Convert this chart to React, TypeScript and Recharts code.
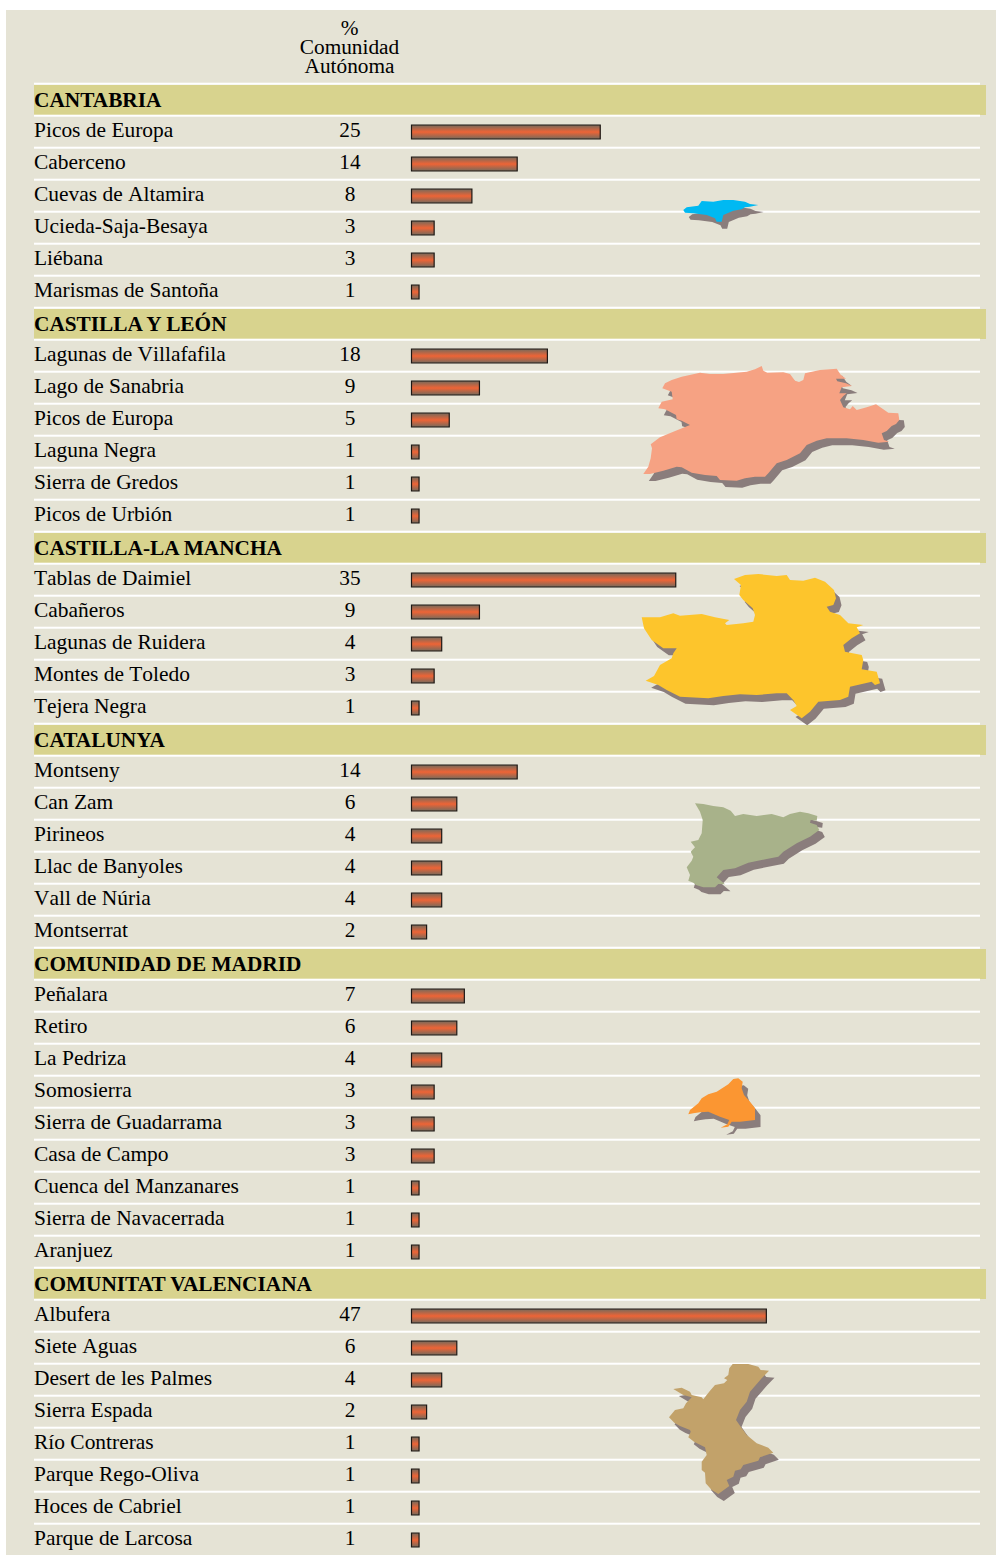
import React from "react";
import { BarChart, Bar, XAxis, YAxis } from "recharts";

const sectionTitles = ["CANTABRIA", "CASTILLA Y LEÓN", "CASTILLA-LA MANCHA", "CATALUNYA", "COMUNIDAD DE MADRID", "COMUNITAT VALENCIANA"];
const cantabriaNames = ["Picos de Europa", "Caberceno", "Cuevas de Altamira", "Ucieda-Saja-Besaya", "Liébana", "Marismas de Santoña"];
const cantabriaValues = [25, 14, 8, 3, 3, 1];
const castillaLeonNames = ["Lagunas de Villafafila", "Lago de Sanabria", "Picos de Europa", "Laguna Negra", "Sierra de Gredos", "Picos de Urbión"];
const castillaLeonValues = [18, 9, 5, 1, 1, 1];
const manchaNames = ["Tablas de Daimiel", "Cabañeros", "Lagunas de Ruidera", "Montes de Toledo", "Tejera Negra"];
const manchaValues = [35, 9, 4, 3, 1];
const catalunyaNames = ["Montseny", "Can Zam", "Pirineos", "Llac de Banyoles", "Vall de Núria", "Montserrat"];
const catalunyaValues = [14, 6, 4, 4, 4, 2];
const madridNames = ["Peñalara", "Retiro", "La Pedriza", "Somosierra", "Sierra de Guadarrama", "Casa de Campo", "Cuenca del Manzanares", "Sierra de Navacerrada", "Aranjuez"];
const madridValues = [7, 6, 4, 3, 3, 3, 1, 1, 1];
const valencianaNames = ["Albufera", "Siete Aguas", "Desert de les Palmes", "Sierra Espada", "Río Contreras", "Parque Rego-Oliva", "Hoces de Cabriel", "Parque de Larcosa"];
const valencianaValues = [47, 6, 4, 2, 1, 1, 1, 1];
const headerLines = ["%", "Comunidad", "Autónoma"];

const groups: [string[], number[]][] = [
  [cantabriaNames, cantabriaValues],
  [castillaLeonNames, castillaLeonValues],
  [manchaNames, manchaValues],
  [catalunyaNames, catalunyaValues],
  [madridNames, madridValues],
  [valencianaNames, valencianaValues],
];

type Row = { id: string; name: string; value: number | null; section: boolean };
const rows: Row[] = [];
groups.forEach(([names, values], g) => {
  rows.push({ id: `s${g}`, name: sectionTitles[g], value: null, section: true });
  names.forEach((name, i) => rows.push({ id: `r${g}-${i}`, name, value: values[i], section: false }));
});
const rowById = new Map(rows.map((r) => [r.id, r]));

type Shape = { origin: [number, number]; fill: string; points: number[] };
const maps: Shape[] = [
  { origin: [670, 190], fill: "#00b9f2", points: [40,60,50,52,85,47,95,33,130,35,160,30,190,30,225,35,240,42,265,45,240,50,225,52,215,58,190,62,160,75,155,95,140,95,135,85,110,75,70,70,45,68] },
  { origin: [630, 350], fill: "#f6a283", points: [395,48,400,62,412,68,460,67,480,72,495,92,507,96,520,90,525,70,570,60,620,56,632,74,648,86,618,86,622,94,648,100,666,108,635,112,628,130,650,130,640,138,630,150,640,172,660,178,668,168,680,180,710,172,738,163,760,178,775,188,805,190,808,210,798,222,785,228,770,243,755,250,762,270,778,275,745,278,700,270,650,265,590,265,560,272,530,285,510,310,470,330,440,340,415,370,405,380,375,380,345,385,320,392,270,390,260,378,225,375,185,368,155,352,140,350,100,362,60,372,40,372,55,350,62,325,66,295,62,283,90,262,130,245,180,225,155,212,140,208,138,195,105,178,85,175,95,155,128,148,125,125,97,115,105,100,125,90,155,80,210,68,240,72,280,72,350,65,375,58] },
  { origin: [630, 350], fill: "#fdc52c", points: [312,687,345,675,385,672,440,678,470,675,480,690,520,692,555,683,585,695,612,720,618,745,610,765,590,770,600,785,630,795,655,820,700,825,680,832,690,850,665,865,640,885,645,905,695,915,700,930,695,958,740,965,750,1000,735,1005,725,995,660,1010,655,1040,630,1050,565,1055,540,1085,515,1105,480,1080,500,1068,490,1050,470,1030,440,1030,380,1035,330,1033,280,1038,235,1045,150,1040,110,1020,85,1005,47,992,72,978,90,945,125,925,130,910,140,895,100,895,65,870,42,835,35,802,90,802,130,790,150,797,215,792,255,802,298,810,285,820,290,825,340,820,370,815,375,795,368,775,340,750,328,735,333,705] },
  { origin: [660, 790], fill: "#a8b28a", points: [105,40,130,42,160,48,190,52,212,62,225,78,250,72,290,78,335,72,370,82,390,72,420,65,445,70,472,78,470,92,452,90,450,98,470,105,478,120,450,140,410,160,370,185,355,200,320,207,265,218,225,235,190,240,170,262,195,283,175,282,165,292,130,292,108,285,100,278,85,272,90,255,80,232,95,212,100,200,92,185,105,172,92,155,115,150,125,130,128,90,120,65] },
  { origin: [670, 1065], fill: "#fb9632", points: [190,42,205,40,218,50,215,70,222,90,240,110,255,130,255,165,210,170,185,170,175,185,152,188,172,178,178,165,150,155,115,140,90,142,70,145,55,148,60,135,85,115,95,100,115,88,140,80,175,58] },
  { origin: [650, 1350], fill: "#c2a26a", points: [248,42,295,42,325,50,332,60,357,62,335,85,300,125,290,155,270,180,258,210,272,230,290,255,320,280,355,293,370,308,330,322,325,332,280,345,272,358,255,362,250,380,230,390,238,408,205,432,185,420,167,400,165,368,155,360,155,335,170,315,165,292,132,275,115,262,122,245,120,240,90,228,73,218,57,202,75,180,100,175,108,160,125,142,100,135,70,117,95,113,120,125,125,135,155,142,160,148,180,122,195,105,222,100,232,90,222,85,235,75,238,55] },
];

const shapePoints = (s: Shape) => {
  const out: string[] = [];
  for (let i = 0; i < s.points.length; i += 2) {
    out.push(`${(s.origin[0] + s.points[i] / 3).toFixed(1)},${(s.origin[1] + s.points[i + 1] / 3).toFixed(1)}`);
  }
  return out.join(" ");
};

const SERIF = "'Liberation Serif', serif";
const PLAIN_STYLE = { fontKerning: "none" } as const;
const BOLD_STYLE = { fontKerning: "normal" } as const;

const RowTick = (props: any) => {
  const { y, payload } = props;
  const row = rowById.get(payload.value);
  if (!row) return null;
  const top = y - 16;
  return (
    <g fontFamily={SERIF} fill="#000">
      {row.section && <rect x={34} y={top + 1} width={952} height={30} fill="#d8d38e" />}
      <rect x={34} y={top - 1.3} width={946} height={2} fill="#fff" />
      <text
        x={34}
        y={row.section ? y + 7 : y + 4.5}
        fontSize={row.section ? 21.3 : 21.45}
        fontWeight={row.section ? 700 : 400}
        style={row.section ? BOLD_STYLE : PLAIN_STYLE}
      >
        {row.name}
      </text>
      {!row.section && (
        <text x={350} y={y + 4.5} fontSize={21.3} textAnchor="middle" style={PLAIN_STYLE}>{row.value}</text>
      )}
    </g>
  );
};

export default function App() {
  return (
    <div style={{ position: "absolute", left: 0, top: 0, width: 996, height: 1555, overflow: "hidden", background: "#fff" }}>
      <div style={{ position: "absolute", left: 6, top: 10, width: 990, height: 1545, background: "#e5e3d5" }} />
      <div style={{ position: "absolute", left: 0, top: 0 }}>
        <BarChart
          width={996}
          height={1556}
          data={rows}
          layout="vertical"
          margin={{ top: 84, left: 410.5, right: 207, bottom: 0 }}
          barCategoryGap={0}
        >
          <defs>
            <linearGradient id="barGrad" x1="0" y1="0" x2="0" y2="1">
              <stop offset="0" stopColor="#756a5c" />
              <stop offset="0.5" stopColor="#ee6436" />
              <stop offset="1" stopColor="#756a5c" />
            </linearGradient>
          </defs>
          <XAxis type="number" domain={[0, 50]} hide />
          <YAxis
            type="category"
            dataKey="id"
            width={1}
            interval={0}
            axisLine={false}
            tickLine={false}
            tick={<RowTick />}
          />
          <Bar dataKey="value" barSize={14} fill="url(#barGrad)" stroke="#1e1815" strokeWidth={1.2} isAnimationActive={false} />
        </BarChart>
      </div>
      <svg width={996} height={1555} style={{ position: "absolute", left: 0, top: 0, pointerEvents: "none" }}>
        {maps.map((m, i) => (
          <g key={i}>
            <polygon points={shapePoints(m)} fill="#8a7d7c" transform="translate(5.5,7)" />
            <polygon points={shapePoints(m)} fill={m.fill} />
          </g>
        ))}
        {headerLines.map((t, i) => (
          <text key={t} x={349.5} y={35 + i * 19} fontFamily={SERIF} fontSize={21.3} textAnchor="middle" fill="#000" style={PLAIN_STYLE}>{t}</text>
        ))}
      </svg>
    </div>
  );
}
